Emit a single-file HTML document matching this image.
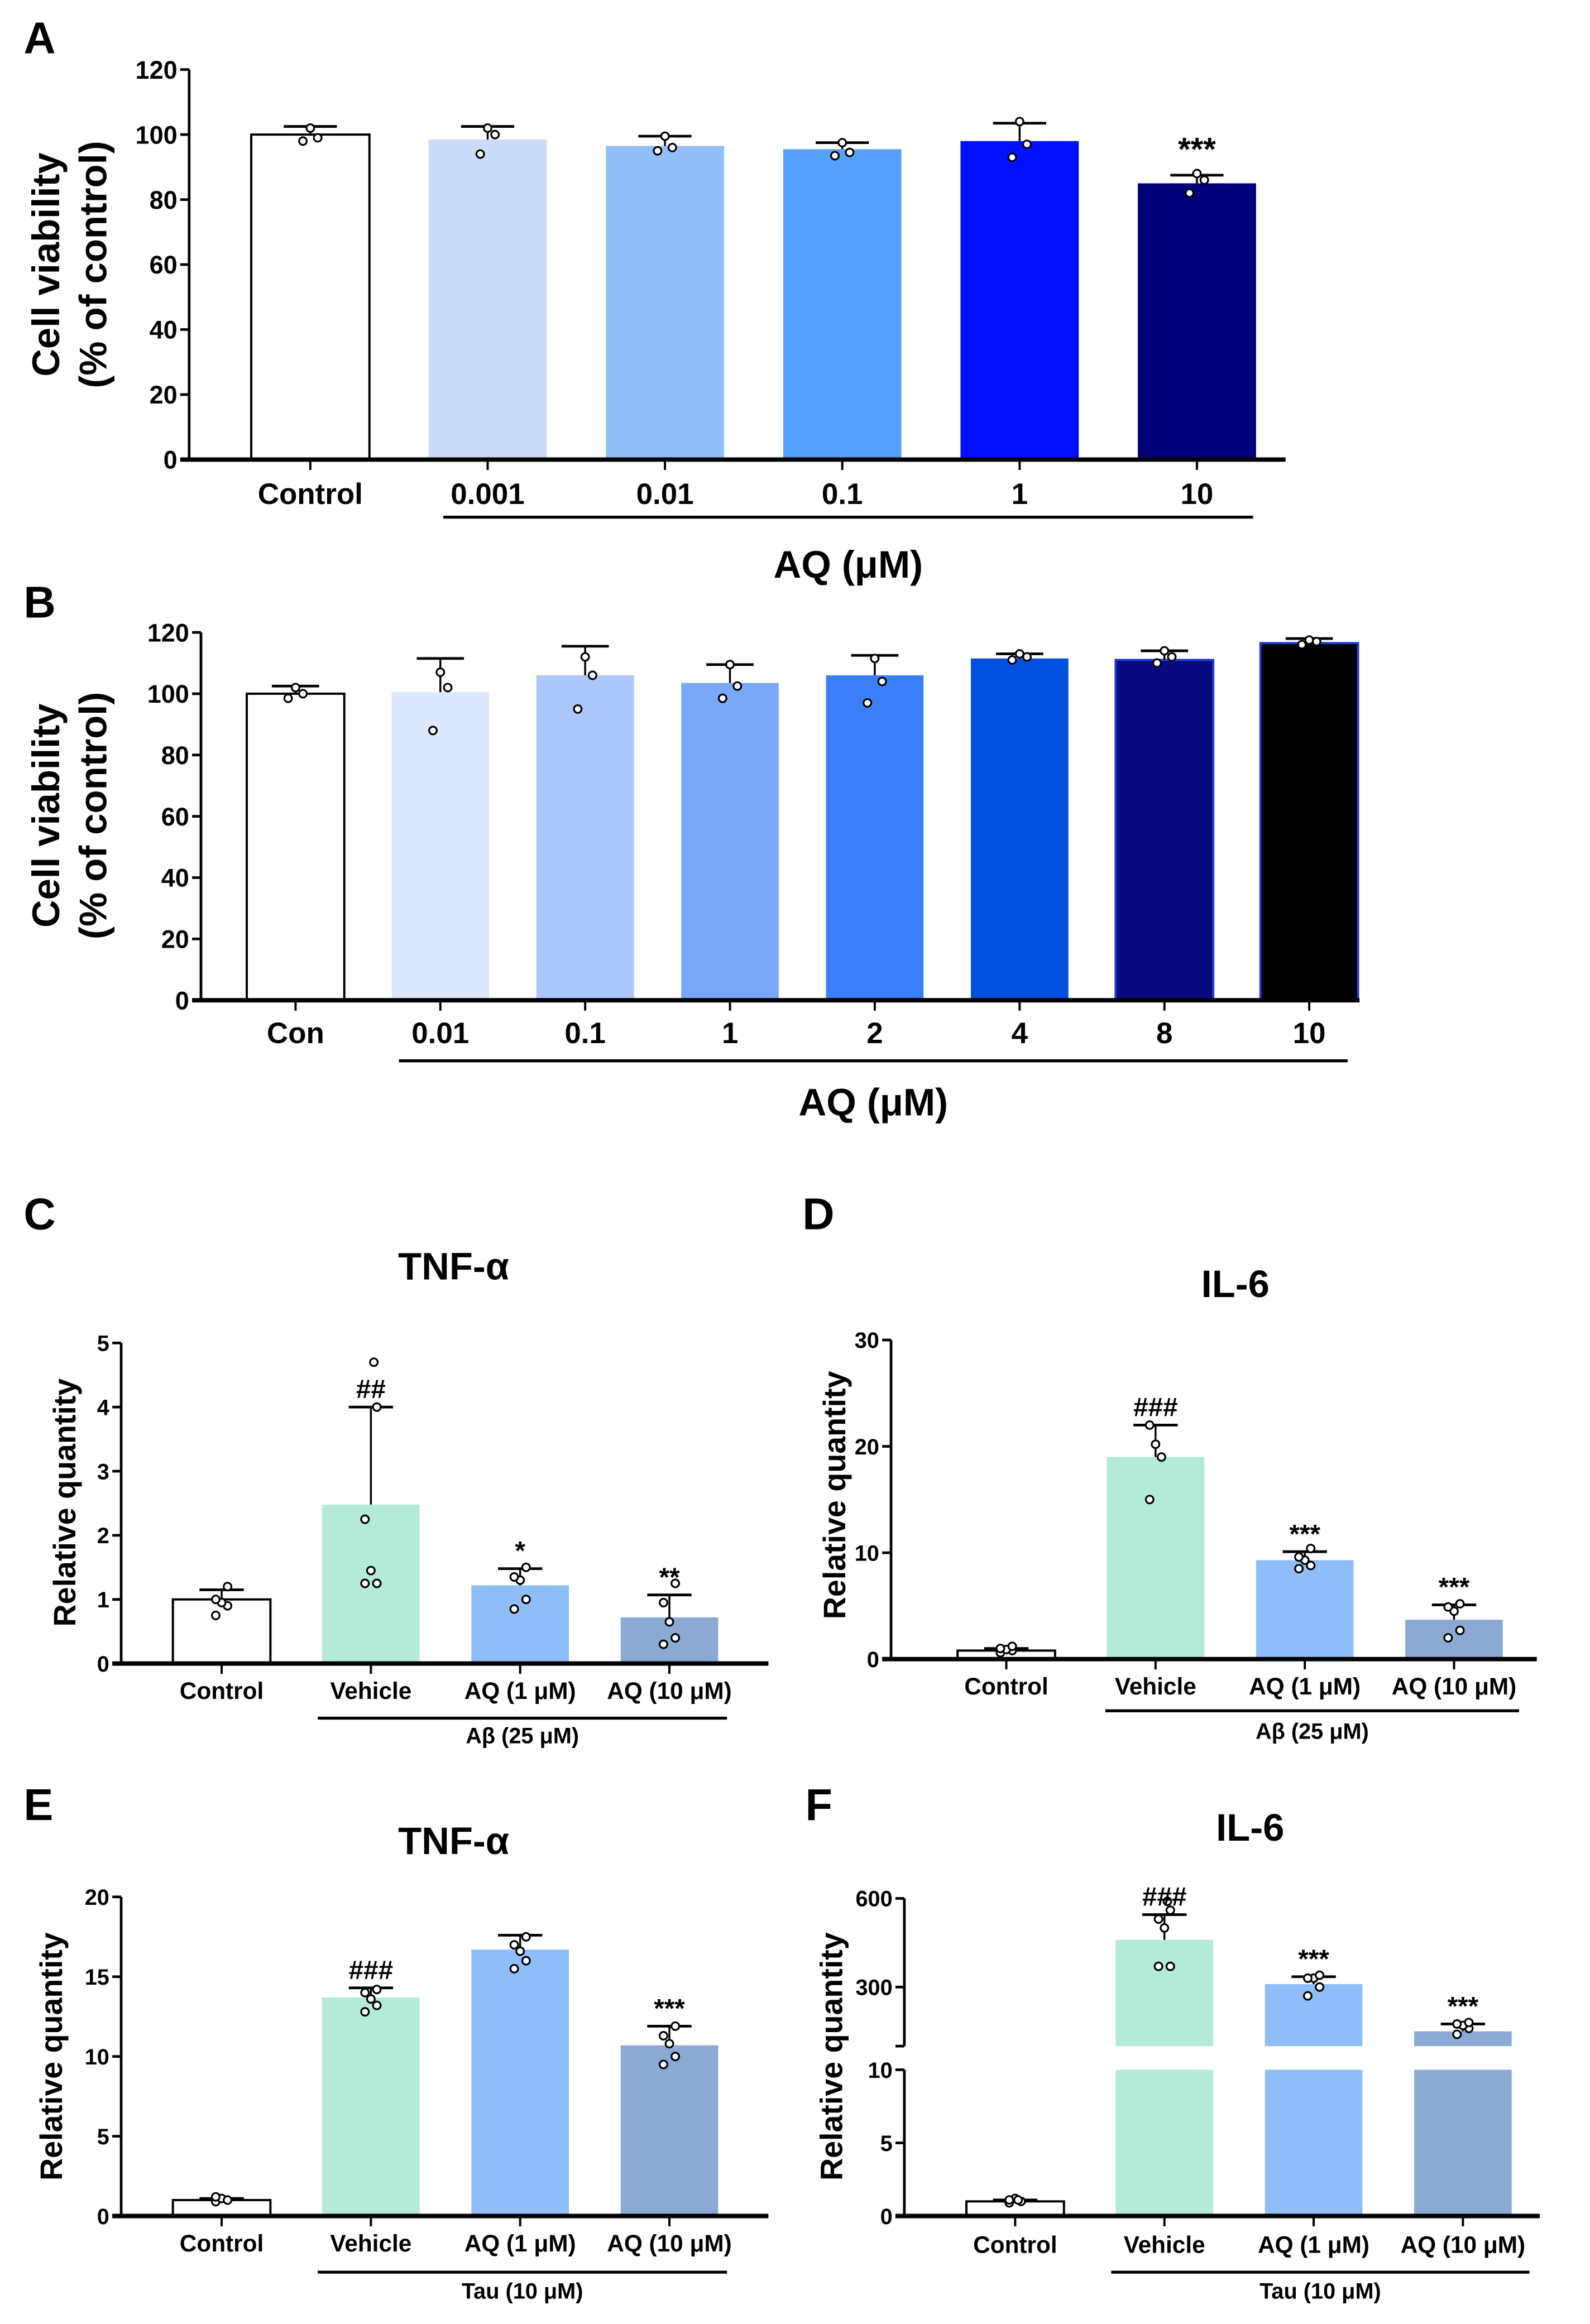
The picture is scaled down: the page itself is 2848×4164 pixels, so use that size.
<!DOCTYPE html>
<html><head><meta charset="utf-8">
<style>
html,body{margin:0;padding:0;background:#fff;}
svg{display:block;}
text{font-family:"Liberation Sans",Arial,sans-serif;font-weight:bold;fill:#000;}
</style></head>
<body>
<svg id="fig" width="2848" height="4164" viewBox="0 0 1076 1573" xmlns="http://www.w3.org/2000/svg"></svg>
<script>
// ---- Panel A data ----
const aCats = ["Control","0.001","0.01","0.1","1","10"];
const aVals = [100,98.5,96.5,95.5,98,85];
const aErr = [102.5,102.5,99.5,97.5,103.5,87.5];
const aPts = [[98,99,102],[94,100,102],[95,96,99.5],[93.5,94.5,97.5],[93,97,104],[82,86,88]];
const aTicks = [0,20,40,60,80,100,120];
const aSig = ["","","","","","***"];
// ---- Panel B data ----
const bCats = ["Con","0.01","0.1","1","2","4","8","10"];
const bVals = [100,100.5,106,103.5,106,111.5,111,116.5];
const bErr = [102.5,111.5,115.5,109.5,112.5,113,114,118];
const bPts = [[98.5,100,102],[88,102,107],[95,106,112],[98.5,102.5,109.5],[97,104,111.5],[111,112,113],[110,112,114],[116,117,117.5]];
const bTicks = [0,20,40,60,80,100,120];
// ---- Panel C data ----
const cCats = ["Control","Vehicle","AQ (1 μM)","AQ (10 μM)"];
const cVals = [1.0,2.48,1.22,0.72];
const cErr = [1.15,4.0,1.48,1.07];
const cPts = [[0.75,0.9,0.95,1.0,1.2],[1.25,1.25,1.45,2.25,4.0,4.7],[0.85,1.0,1.3,1.35,1.5],[0.3,0.4,0.65,0.95,1.25]];
const cTicks = [0,1,2,3,4,5];
const cSig = ["","##","*","**"];
// ---- Panel D data ----
const dCats = ["Control","Vehicle","AQ (1 μM)","AQ (10 μM)"];
const dVals = [0.8,19,9.3,3.7];
const dErr = [1.0,22,10.1,5.1];
const dPts = [[0.6,0.8,0.9,1.0,1.2],[15,19,20.2,22],[8.5,8.8,9.3,9.6,10.4],[2,2.7,4.5,4.9,5.2]];
const dTicks = [0,10,20,30];
const dSig = ["","###","***","***"];
// ---- Panel E data ----
const eCats = ["Control","Vehicle","AQ (1 μM)","AQ (10 μM)"];
const eVals = [1.0,13.7,16.7,10.7];
const eErr = [1.1,14.3,17.6,11.9];
const ePts = [[0.9,1.0,1.1,1.2,1.0],[12.8,13.2,13.6,14.0,14.2],[15.5,16.0,16.6,17.0,17.5],[9.5,10.0,10.8,11.3,11.9]];
const eTicks = [0,5,10,15,20];
const eSig = ["","###","","***"];
// ---- Panel F data ----
const fCats = ["Control","Vehicle","AQ (1 μM)","AQ (10 μM)"];
const fVals = [1.0,460,310,150];
const fErr = [1.1,545,335,175];
const fPts = [[0.9,1.0,1.2,1.1,1.0,1.1],[370,370,500,530,560,590],[270,300,330,330,340],[140,160,170,175,180]];
const fTicksLow = [0,5,10];
const fTicksHigh = [300,600];
const fSig = ["","###","***","***"];

const NS="http://www.w3.org/2000/svg";
const svg=document.getElementById('fig');
const jitPattern=[-1,1,0,-1,1,0.5];
function mk(tag,attrs,parent){const e=document.createElementNS(NS,tag);for(const k in attrs)e.setAttribute(k,attrs[k]);(parent||svg).appendChild(e);return e;}
function txt(s,x,y,size,anchor,parent,rot){const t=mk('text',{x:x,y:y,'font-size':size,'text-anchor':anchor||'middle'},parent);if(rot)t.setAttribute('transform','rotate(-90 '+x+' '+y+')');t.textContent=s;return t;}

function panel(o){
  const g=mk('g',{});
  
  
  const L=txt(o.letter,o.lx,o.ly,30,'start',g);
  
  
  if(o.title){const t=txt(o.title,o.tx,o.ty,26,'middle',g);
    
    }
  const y=o.y;
  const n=o.cats.length;
  const cx=i=>o.x0+o.step*i;
  for(let i=0;i<n;i++){
    const v=o.vals[i];
    if(o.broken && v>o.brk){
      const r1=mk('rect',{x:cx(i)-o.bw/2,y:o.yLowTop,width:o.bw,height:o.base-o.yLowTop,fill:o.colors[i]},g);
      
      
      const r2=mk('rect',{x:cx(i)-o.bw/2,y:y(v),width:o.bw,height:o.yHighBot-y(v),fill:o.colors[i]},g);
      
      
    } else {
      const r=mk('rect',{x:cx(i)-o.bw/2,y:y(v),width:o.bw,height:o.base-y(v),fill:o.colors[i],stroke:o.strokes[i]||'none','stroke-width':1.5},g);
      
      
    }
    const ey=y(o.err[i]);
    const e1=mk('line',{x1:cx(i),x2:cx(i),y1:y(v),y2:ey,stroke:'#000','stroke-width':1.3},g);
    
    
    mk('line',{x1:cx(i)-o.cap,x2:cx(i)+o.cap,y1:ey,y2:ey,stroke:'#000','stroke-width':1.8},g);
    const pts=o.pts[i];
    for(let j=0;j<pts.length;j++){
      const off=jitPattern[j%jitPattern.length]*o.jit;
      const c=mk('circle',{cx:cx(i)+off,cy:y(pts[j]),r:2.6,fill:'#fff',stroke:'#000','stroke-width':1.2},g);
      
      
    }
    if(o.sig && o.sig[i]){const s=txt(o.sig[i],cx(i),y(o.err[i])-o.sigOff,o.sigSize,'middle',g);
      
      }
    mk('line',{x1:cx(i),x2:cx(i),y1:o.base,y2:o.base+7,stroke:'#000','stroke-width':1.5},g);
    const lb=txt(o.cats[i],cx(i),o.labY,o.labSize,'middle',g);
    
    
  }
  if(o.broken){
    mk('line',{x1:o.ax,x2:o.ax,y1:o.base,y2:o.yLowTop,stroke:'#000','stroke-width':1.8},g);
    mk('line',{x1:o.ax,x2:o.ax,y1:o.yHighBot,y2:y(o.hiTicks[o.hiTicks.length-1]),stroke:'#000','stroke-width':1.8},g);
    mk('line',{x1:o.ax-6,x2:o.ax,y1:o.yHighBot,y2:o.yHighBot,stroke:'#000','stroke-width':1.8},g);
  } else {
    mk('line',{x1:o.ax,x2:o.ax,y1:o.base,y2:y(o.ticks[o.ticks.length-1]),stroke:'#000','stroke-width':1.8},g);
  }
  const xa=mk('line',{x1:o.ax-6,x2:o.axEnd,y1:o.base,y2:o.base,stroke:'#000','stroke-width':3},g);
  
  
  const allT=o.broken?o.ticks.concat(o.hiTicks):o.ticks;
  for(const t of allT){
    mk('line',{x1:o.ax-6,x2:o.ax,y1:y(t),y2:y(t),stroke:'#000','stroke-width':1.8},g);
    const tl=txt(String(t),o.ax-8,y(t)+o.tickSize*0.36,o.tickSize,'end',g);
    
    
  }
  o.ytitle.forEach((s,k)=>{const t=txt(s,o.ytx+k*o.ytdx,o.yty,o.ytSize,'middle',g,true);
    
    });
  mk('line',{x1:o.brx1,x2:o.brx2,y1:o.bry,y2:o.bry,stroke:'#000','stroke-width':2},g);
  const gl=txt(o.group,(o.brx1+o.brx2)/2,o.gy,o.gSize,'middle',g);
  
  
}

function lin(base,top,vmax){return v=>base-(v/vmax)*(base-top);}

panel({name:'panel-a',letter:'A',lx:16,ly:36,cats:aCats,vals:aVals,err:aErr,pts:aPts,ticks:aTicks,sig:aSig,
  y:lin(311,47,120),base:311,ax:128,axEnd:870,x0:210,step:120,bw:80,cap:18,jit:5,
  colors:['#fff','#c9ddf8','#93bff8','#55a0fc','#0010ff','#00007a'],strokes:['#000'],
  sigOff:10,sigSize:22,labY:341,labSize:20,tickSize:17,
  ytitle:['Cell viability','(% of control)'],ytx:40,ytdx:32,yty:179,ytSize:26,
  brx1:300,brx2:848,bry:350,group:'AQ (μM)',gy:391,gSize:26});

panel({name:'panel-b',letter:'B',lx:16,ly:418,cats:bCats,vals:bVals,err:bErr,pts:bPts,ticks:bTicks,
  y:lin(677,428,120),base:677,ax:136,axEnd:920,x0:200,step:98,bw:66,cap:16,jit:5,
  colors:['#fff','#dce8fd','#abc8fd','#78a8f7','#3a7efa','#0050e0','#0a0a80','#000'],strokes:['#000','','','','','','#1a3ad0','#1a3ad0'],
  labY:706,labSize:20,tickSize:17,
  ytitle:['Cell viability','(% of control)'],ytx:40,ytdx:32,yty:552,ytSize:26,
  brx1:270,brx2:912,bry:718,group:'AQ (μM)',gy:755,gSize:26});

const cCol=['#fff','#b3ead8','#8fbdf7','#8aaad4'];
panel({name:'panel-c',letter:'C',lx:16,ly:832,title:'TNF-α',tx:307,ty:866,cats:cCats,vals:cVals,err:cErr,pts:cPts,ticks:cTicks,sig:cSig,
  y:lin(1126,909,5),base:1126,ax:82,axEnd:520,x0:150,step:101,bw:66,cap:15,jit:4,
  colors:cCol,strokes:['#000'],sigOff:6,sigSize:18,labY:1150,labSize:16,tickSize:15,
  ytitle:['Relative quantity'],ytx:51,ytdx:0,yty:1017,ytSize:21,
  brx1:215,brx2:492,bry:1163,group:'Aβ (25 μM)',gy:1180,gSize:15});

panel({name:'panel-d',letter:'D',lx:543,ly:832,title:'IL-6',tx:836,ty:878,cats:dCats,vals:dVals,err:dErr,pts:dPts,ticks:dTicks,sig:dSig,
  y:lin(1123,907,30),base:1123,ax:603,axEnd:1040,x0:681,step:101,bw:66,cap:15,jit:4,
  colors:cCol,strokes:['#000'],sigOff:6,sigSize:18,labY:1147,labSize:16,tickSize:15,
  ytitle:['Relative quantity'],ytx:572,ytdx:0,yty:1012,ytSize:21,
  brx1:748,brx2:1028,bry:1158,group:'Aβ (25 μM)',gy:1177,gSize:15});

panel({name:'panel-e',letter:'E',lx:16,ly:1232,title:'TNF-α',tx:307,ty:1255,cats:eCats,vals:eVals,err:eErr,pts:ePts,ticks:eTicks,sig:eSig,
  y:lin(1500,1284,20),base:1500,ax:82,axEnd:520,x0:150,step:101,bw:66,cap:15,jit:4,
  colors:cCol,strokes:['#000'],sigOff:6,sigSize:18,labY:1524,labSize:16,tickSize:15,
  ytitle:['Relative quantity'],ytx:42,ytdx:0,yty:1392,ytSize:21,
  brx1:215,brx2:492,bry:1538,group:'Tau (10 μM)',gy:1556,gSize:15});

const fY=v=> v<=10 ? 1500-(v/10)*99 : 1385-(v-100)*0.2;
panel({name:'panel-f',letter:'F',lx:545,ly:1232,title:'IL-6',tx:846,ty:1246,cats:fCats,vals:fVals,err:fErr,pts:fPts,ticks:fTicksLow,hiTicks:fTicksHigh,sig:fSig,
  broken:true,brk:10,yLowTop:1401,yHighBot:1385,
  y:fY,base:1500,ax:612,axEnd:1042,x0:687,step:101,bw:66,cap:15,jit:4,
  colors:cCol,strokes:['#000'],sigOff:6,sigSize:18,labY:1525,labSize:16,tickSize:15,
  ytitle:['Relative quantity'],ytx:570,ytdx:0,yty:1392,ytSize:21,
  brx1:752,brx2:1035,bry:1538,group:'Tau (10 μM)',gy:1556,gSize:15});
</script>
</body></html>
